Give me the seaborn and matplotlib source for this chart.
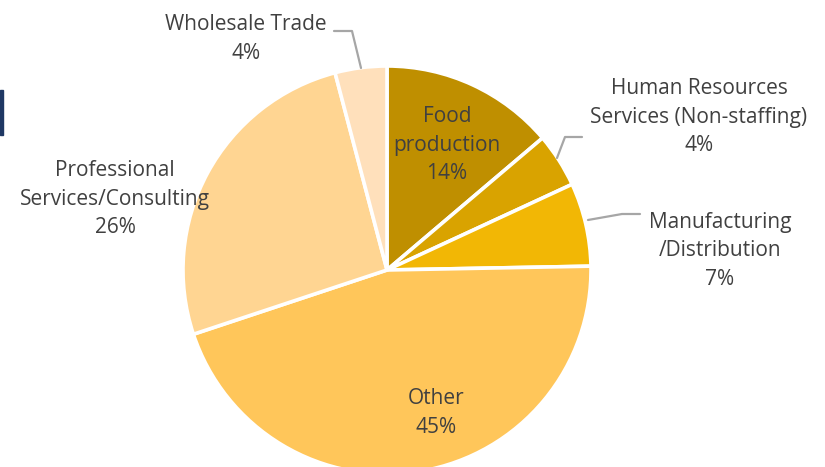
import matplotlib
matplotlib.use('Agg')
import matplotlib.pyplot as plt
import seaborn as sns
from matplotlib.patches import Rectangle

sns.set_theme(style="white")
plt.rcParams['font.family'] = ['Open Sans', 'DejaVu Sans']

# ── Data (clockwise from 12 o'clock) ──
SECTORS = ["Food\nproduction", "Human Resources\nServices (Non-staffing)",
           "Manufacturing\n/Distribution", "Other",
           "Professional\nServices/Consulting", "Wholesale Trade"]
SHARES = [13.8, 4.3, 6.6, 45.2, 26.0, 4.1]
COLORS = ["#BF8F00", "#D9A300", "#F2B705", "#FFC65A", "#FFD592", "#FFE0BB"]

W, H = 825, 467
fig = plt.figure(figsize=(W / 100, H / 100), dpi=100)
ax = fig.add_axes([0, 0, 1, 1])
ax.set_aspect('equal')
ax.axis('off')


def py(y):
    # pixel row (from top) -> data y (from bottom)
    return H - y


palette = sns.color_palette(COLORS)
ax.pie(SHARES, colors=palette, startangle=90, counterclock=False,
       center=(387, py(270)), radius=204,
       wedgeprops=dict(edgecolor='white', linewidth=2.6))
ax.set_xlim(0, W)
ax.set_ylim(0, H)

TXT = '#404040'
label_pos = [(447, 145), (699, 117), (720, 251), (436, 413), (115, 199), (246, 39)]
for name, pct, (x, y) in zip(SECTORS, SHARES, label_pos):
    ax.text(x, py(y), f"{name}\n{round(pct)}%", ha='center', va='center',
            fontsize=15, color=TXT, linespacing=1.45)

# leader lines
LINE = '#A6A6A6'
for xs, ys in [([334, 352, 361], [31, 31, 68]),
               ([582, 565, 557], [137, 137, 158]),
               ([640, 622, 588], [214, 214, 220])]:
    ax.plot(xs, [py(v) for v in ys], color=LINE, lw=1.6)

# dark accent bar at left edge
fig.patches.append(Rectangle((0, 1 - 135 / H), 3 / W, 45 / H,
                             transform=fig.transFigure, color='#1F3864'))

fig.savefig('out.png', dpi=100, facecolor='white')
